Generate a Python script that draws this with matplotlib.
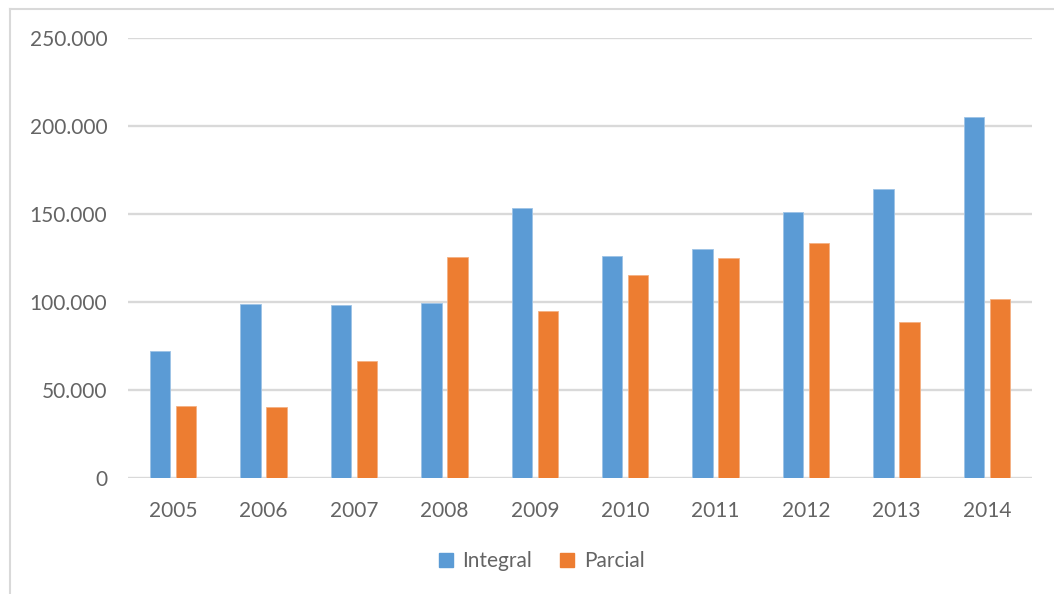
import matplotlib
matplotlib.use("Agg")
import matplotlib.pyplot as plt
import numpy as np
from matplotlib.lines import Line2D

years = ["2005", "2006", "2007", "2008", "2009", "2010", "2011", "2012", "2013", "2014"]
integral = [72200, 98600, 98100, 99400, 153300, 126300, 130000, 151000, 164300, 205300]
parcial = [40900, 40100, 66300, 125600, 95000, 115300, 124800, 133700, 88400, 101500]
yticks = [0, 50000, 100000, 150000, 200000, 250000]
ytick_labels = ["0", "50.000", "100.000", "150.000", "200.000", "250.000"]

plt.rcParams['font.family'] = ['Lato', 'DejaVu Sans']
W, H = 1054, 594
fig = plt.figure(figsize=(W / 100, H / 100), dpi=100)
ax = fig.add_axes([128 / W, 1 - 477.5 / H, (1032 - 128) / W, (477.5 - 38.3) / H])

x = np.arange(len(years))
bw = 0.227
off = 0.144
blue = "#5B9BD5"
orange = "#ED7D31"
ax.bar(x - off, integral, bw, color=blue, edgecolor="#9DC3E6", linewidth=0.6, zorder=3, label="Integral")
ax.bar(x + off, parcial, bw, color=orange, edgecolor="#F4B183", linewidth=0.6, zorder=3, label="Parcial")

ax.set_xlim(-0.5, len(years) - 0.5)
ax.set_ylim(0, 250000)
ax.set_yticks(yticks)
ax.set_yticklabels(ytick_labels)
ax.set_xticks(x)
ax.set_xticklabels(years)
ax.yaxis.grid(True, color="#D9D9D9", linewidth=1.7, zorder=0)
ax.set_axisbelow(True)
for s in ax.spines.values():
    s.set_visible(False)
ax.tick_params(axis="both", length=0, labelsize=15, colors="#646464")
ax.tick_params(axis="y", pad=15)
ax.tick_params(axis="x", pad=17)

handles = [Line2D([], [], marker="s", linestyle="none", markersize=10, color=blue),
           Line2D([], [], marker="s", linestyle="none", markersize=10, color=orange)]
leg = fig.legend(handles, ["Integral", "Parcial"], loc="center", bbox_to_anchor=(540 / W, 1 - 561 / H),
                 ncol=2, frameon=False, fontsize=15, handletextpad=0.3, columnspacing=1.2,
                 handlelength=1.0)
for t in leg.get_texts():
    t.set_color("#646464")

# cropped outer frame (top and left edges)
fig.add_artist(Line2D([10 / W, 1], [1 - 9 / H, 1 - 9 / H], color="#D9D9D9", linewidth=1.5, transform=fig.transFigure))
fig.add_artist(Line2D([10 / W, 10 / W], [0, 1 - 9 / H], color="#D9D9D9", linewidth=1.5, transform=fig.transFigure))

fig.savefig("out.png", dpi=100)
